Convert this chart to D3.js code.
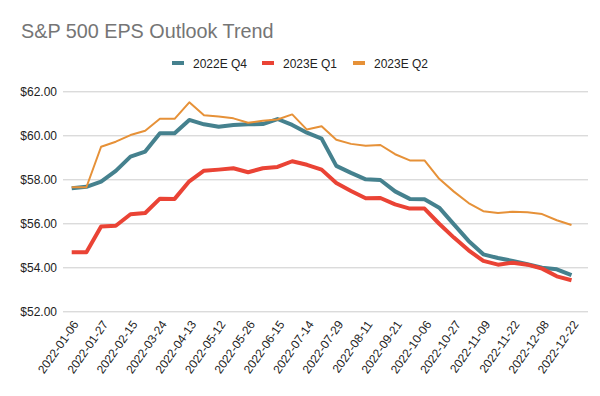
<!DOCTYPE html>
<html>
<head>
<meta charset="utf-8">
<script src="https://cdn.jsdelivr.net/npm/d3@7"></script>
<style>
  html, body { margin: 0; padding: 0; background: #fff; }
  svg { display: block; font-family: "Liberation Sans", Arial, sans-serif; }
</style>
</head>
<body>
<svg id="chart" width="600" height="396"></svg>
<script>
const dates = [
  "2022-01-06","2022-01-13","2022-01-27","2022-02-03","2022-02-15","2022-03-03",
  "2022-03-24","2022-04-07","2022-04-13","2022-04-28","2022-05-12","2022-05-19",
  "2022-05-26","2022-06-02","2022-06-15","2022-06-30","2022-07-14","2022-07-21",
  "2022-07-29","2022-08-04","2022-08-11","2022-08-25","2022-09-21","2022-09-29",
  "2022-10-06","2022-10-13","2022-10-27","2022-11-03","2022-11-09","2022-11-16",
  "2022-11-22","2022-12-01","2022-12-08","2022-12-15","2022-12-22"
];
const q4_2022 = [
  57.59,57.66,57.89,58.38,59.03,59.26,60.09,60.09,60.70,60.50,60.39,60.47,
  60.50,60.51,60.74,60.47,60.12,59.85,58.61,58.29,58.00,57.97,57.45,57.11,
  57.09,56.71,55.95,55.20,54.59,54.42,54.29,54.14,53.98,53.91,53.64
];
const q1_2023 = [
  54.68,54.68,55.85,55.89,56.41,56.47,57.12,57.11,57.91,58.39,58.44,58.50,
  58.32,58.50,58.56,58.82,58.66,58.44,57.83,57.47,57.14,57.15,56.86,56.67,
  56.67,55.98,55.35,54.77,54.29,54.12,54.21,54.12,53.94,53.59,53.41
];
const q2_2023 = [
  57.64,57.64,59.48,59.71,60.01,60.21,60.75,60.75,61.50,60.91,60.85,60.77,
  60.57,60.66,60.72,60.95,60.26,60.41,59.80,59.61,59.52,59.56,59.14,58.86,
  58.86,58.02,57.44,56.92,56.55,56.47,56.53,56.50,56.42,56.14,55.92
];
const seriesNames = ["2022E Q4", "2023E Q1", "2023E Q2"];
const seriesColors = ["#45818e", "#ea4335", "#e69138"];
const seriesWidths = [4, 4, 2];
const yTicks = [52, 54, 56, 58, 60, 62];

const svg = d3.select("#chart");

svg.append("text")
  .attr("x", 21).attr("y", 38)
  .attr("font-size", 19.8)
  .attr("fill", "#757575")
  .text("S&P 500 EPS Outlook Trend");

const x = d3.scalePoint().domain(dates).range([71.7, 571.5]);
const y = d3.scaleLinear().domain([52, 62]).range([311.3, 91.3]);

// gridlines + y labels
const yAxis = svg.append("g")
  .attr("transform", "translate(63,0)")
  .call(d3.axisLeft(y).tickValues(yTicks).tickSize(-525).tickFormat(d3.format("$.2f")));
yAxis.select(".domain").remove();
yAxis.selectAll(".tick line").attr("stroke", "#cccccc").attr("stroke-width", 1);
yAxis.selectAll(".tick text")
  .attr("x", -6)
  .attr("font-size", 12)
  .attr("font-family", "Liberation Sans, Arial, sans-serif")
  .attr("fill", "#222");

// x labels
const xAxis = svg.append("g")
  .attr("transform", "translate(0,311.3)")
  .call(d3.axisBottom(x).tickValues(dates.filter((d, i) => i % 2 === 0)).tickSize(0));
xAxis.select(".domain").remove();
xAxis.selectAll(".tick text")
  .attr("font-size", 12)
  .attr("font-family", "Liberation Sans, Arial, sans-serif")
  .attr("fill", "#222")
  .attr("text-anchor", "end")
  .attr("x", 0).attr("y", 0).attr("dy", 0)
  .attr("transform", "translate(7,13) rotate(-55)");

// lines
const allSeries = [q4_2022, q1_2023, q2_2023];
const line = d3.line().x((d, i) => x(dates[i])).y(d => y(d));
[0, 1, 2].forEach(k => {
  svg.append("path")
    .datum(allSeries[k])
    .attr("fill", "none")
    .attr("stroke", seriesColors[k])
    .attr("stroke-width", seriesWidths[k])
    .attr("stroke-linejoin", "round")
    .attr("d", line);
});

// legend
const legendX = [172, 262, 353];
const legend = svg.append("g");
seriesNames.forEach((n, k) => {
  legend.append("rect")
    .attr("x", legendX[k]).attr("y", 61)
    .attr("width", 12).attr("height", 4)
    .attr("fill", seriesColors[k]);
  legend.append("text")
    .attr("x", legendX[k] + 21).attr("y", 67.5)
    .attr("font-size", 12)
    .attr("fill", "#222")
    .text(n);
});
</script>
</body>
</html>
